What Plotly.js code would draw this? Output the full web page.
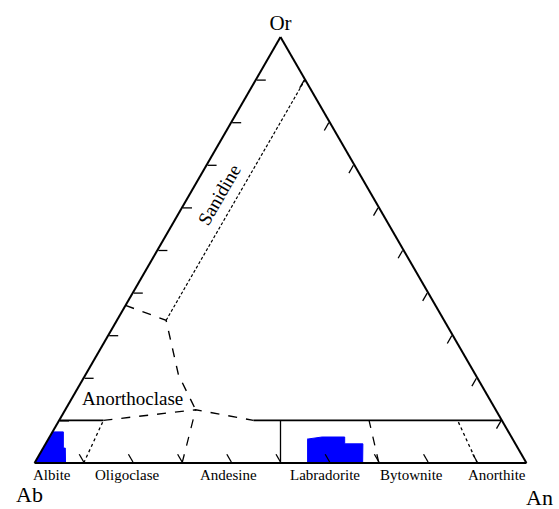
<!DOCTYPE html>
<html>
<head>
<meta charset="utf-8">
<script src="https://cdn.plot.ly/plotly-3.0.1.min.js"></script>
<style>
  body { margin: 0; background: #fff; }
  #chart { width: 559px; height: 509px; }
</style>
</head>
<body>
<div id="chart"></div>
<script>
// Feldspar ternary: Or (top), Ab (bottom left), An (bottom right), values in %
const SERIF = '"Liberation Serif", "Times New Roman", serif';

// plagioclase field names and where their labels sit along the Ab-An join (An %)
const fieldNames = ['Albite', 'Oligoclase', 'Andesine', 'Labradorite', 'Bytownite', 'Anorthite'];
const fieldLabelAn = [3.6, 18.8, 39.4, 59, 76.5, 94];

// Or = 10 join, solid parts
const joinLeftOr = [10, 10];
const joinLeftAn = [0, 9];
const joinRightOr = [10, 10];
const joinRightAn = [39.5, 90];

// plagioclase / anorthoclase boundary (dashed)
const plagTopOr = [10, 12.5, 10];
const plagTopAn = [9, 26.5, 39.5];

// anorthoclase / sanidine boundary (dashed)
const anorthOr = [37, 33.5, 20.7, 12.5];
const anorthAn = [0, 10, 18.9, 26.5];

// sanidine field limit (An = 10)
const sanidineOr = [33.5, 90];
const sanidineAn = [10, 10];

// plagioclase divisions, from the Ab-An join up to the boundary
const divBaseAn = [10, 30, 50, 70, 90];
const divTopOr = [10, 12.5, 10, 10, 10];
const divTopAn = [9, 26.5, 45, 63, 81];
const divDash = ['dot', 'dash', 'solid', 'dash', 'dot'];

// analysed compositions (filled areas)
const albiteOr = [7.3, 7.3, 3.5, 3.5, 0, 0];
const albiteAn = [0, 2.2, 4.1, 4.5, 6.3, 0];
const labradOr = [5.6, 6.1, 6.1, 4.5, 4.5, 0, 0];
const labradAn = [52.6, 55.4, 60.0, 60.8, 64.5, 66.7, 55.4];

function abOf(or, an) {
    return or.map((o, i) => 100 - o - an[i]);
}

function lineTrace(or, an, dash, width) {
    return {
        type: 'scatterternary',
        mode: 'lines',
        a: or,
        b: abOf(or, an),
        c: an,
        line: { color: 'black', width: width || 1.4, dash: dash },
        hoverinfo: 'skip'
    };
}

function areaTrace(or, an) {
    return {
        type: 'scatterternary',
        mode: 'lines',
        a: or,
        b: abOf(or, an),
        c: an,
        fill: 'toself',
        fillcolor: '#0000ff',
        line: { color: '#0000ff', width: 1 },
        hoverinfo: 'skip'
    };
}

const traces = [
    areaTrace(albiteOr, albiteAn),
    areaTrace(labradOr, labradAn),
    lineTrace(joinLeftOr, joinLeftAn, 'solid', 1.8),
    lineTrace(joinRightOr, joinRightAn, 'solid', 1.8),
    lineTrace(plagTopOr, plagTopAn, 'dash'),
    lineTrace(anorthOr, anorthAn, 'dash'),
    lineTrace(sanidineOr, sanidineAn, '3px,2px', 1.2)
];

divBaseAn.forEach((an, i) => {
    traces.push(lineTrace([0, divTopOr[i]], [an, divTopAn[i]], divDash[i], 1.3));
});

const axisStyle = {
    min: 0,
    showgrid: false,
    showticklabels: false,
    ticks: 'inside',
    ticklen: 9,
    tickwidth: 1.3,
    tickcolor: 'black',
    tick0: 0,
    dtick: 10,
    linecolor: 'black',
    linewidth: 2
};

function note(text, x, y, size, angle) {
    return {
        text: text, xref: 'paper', yref: 'paper', x: x, y: y,
        xanchor: 'center', yanchor: 'middle', showarrow: false,
        textangle: angle || 0,
        font: { family: SERIF, size: size, color: 'black' }
    };
}

// field names under the base: the triangle spans the paper width, so An % maps to x
const fieldNotes = fieldNames.map((name, i) => note(name, fieldLabelAn[i] / 100, -0.027, 15));

const layout = {
    width: 559,
    height: 509,
    margin: { l: 34, r: 32, t: 37, b: 46 },
    paper_bgcolor: 'white',
    showlegend: false,
    font: { family: SERIF, color: 'black' },
    ternary: {
        sum: 100,
        bgcolor: 'white',
        aaxis: Object.assign({}, axisStyle, { title: { text: 'Or', font: { family: SERIF, size: 21 } } }),
        baxis: Object.assign({}, axisStyle, { title: { text: '' } }),
        caxis: Object.assign({}, axisStyle, { title: { text: '' } })
    },
    annotations: fieldNotes.concat([
        note('Ab', -0.01, -0.075, 22),
        note('An', 1.025, -0.08, 22),
        note('Anorthoclase', 0.2, 0.152, 19),
        note('Sanidine', 0.376, 0.63, 19, -60)
    ])
};

Plotly.newPlot('chart', traces, layout, { displayModeBar: false, staticPlot: true });
</script>
</body>
</html>
